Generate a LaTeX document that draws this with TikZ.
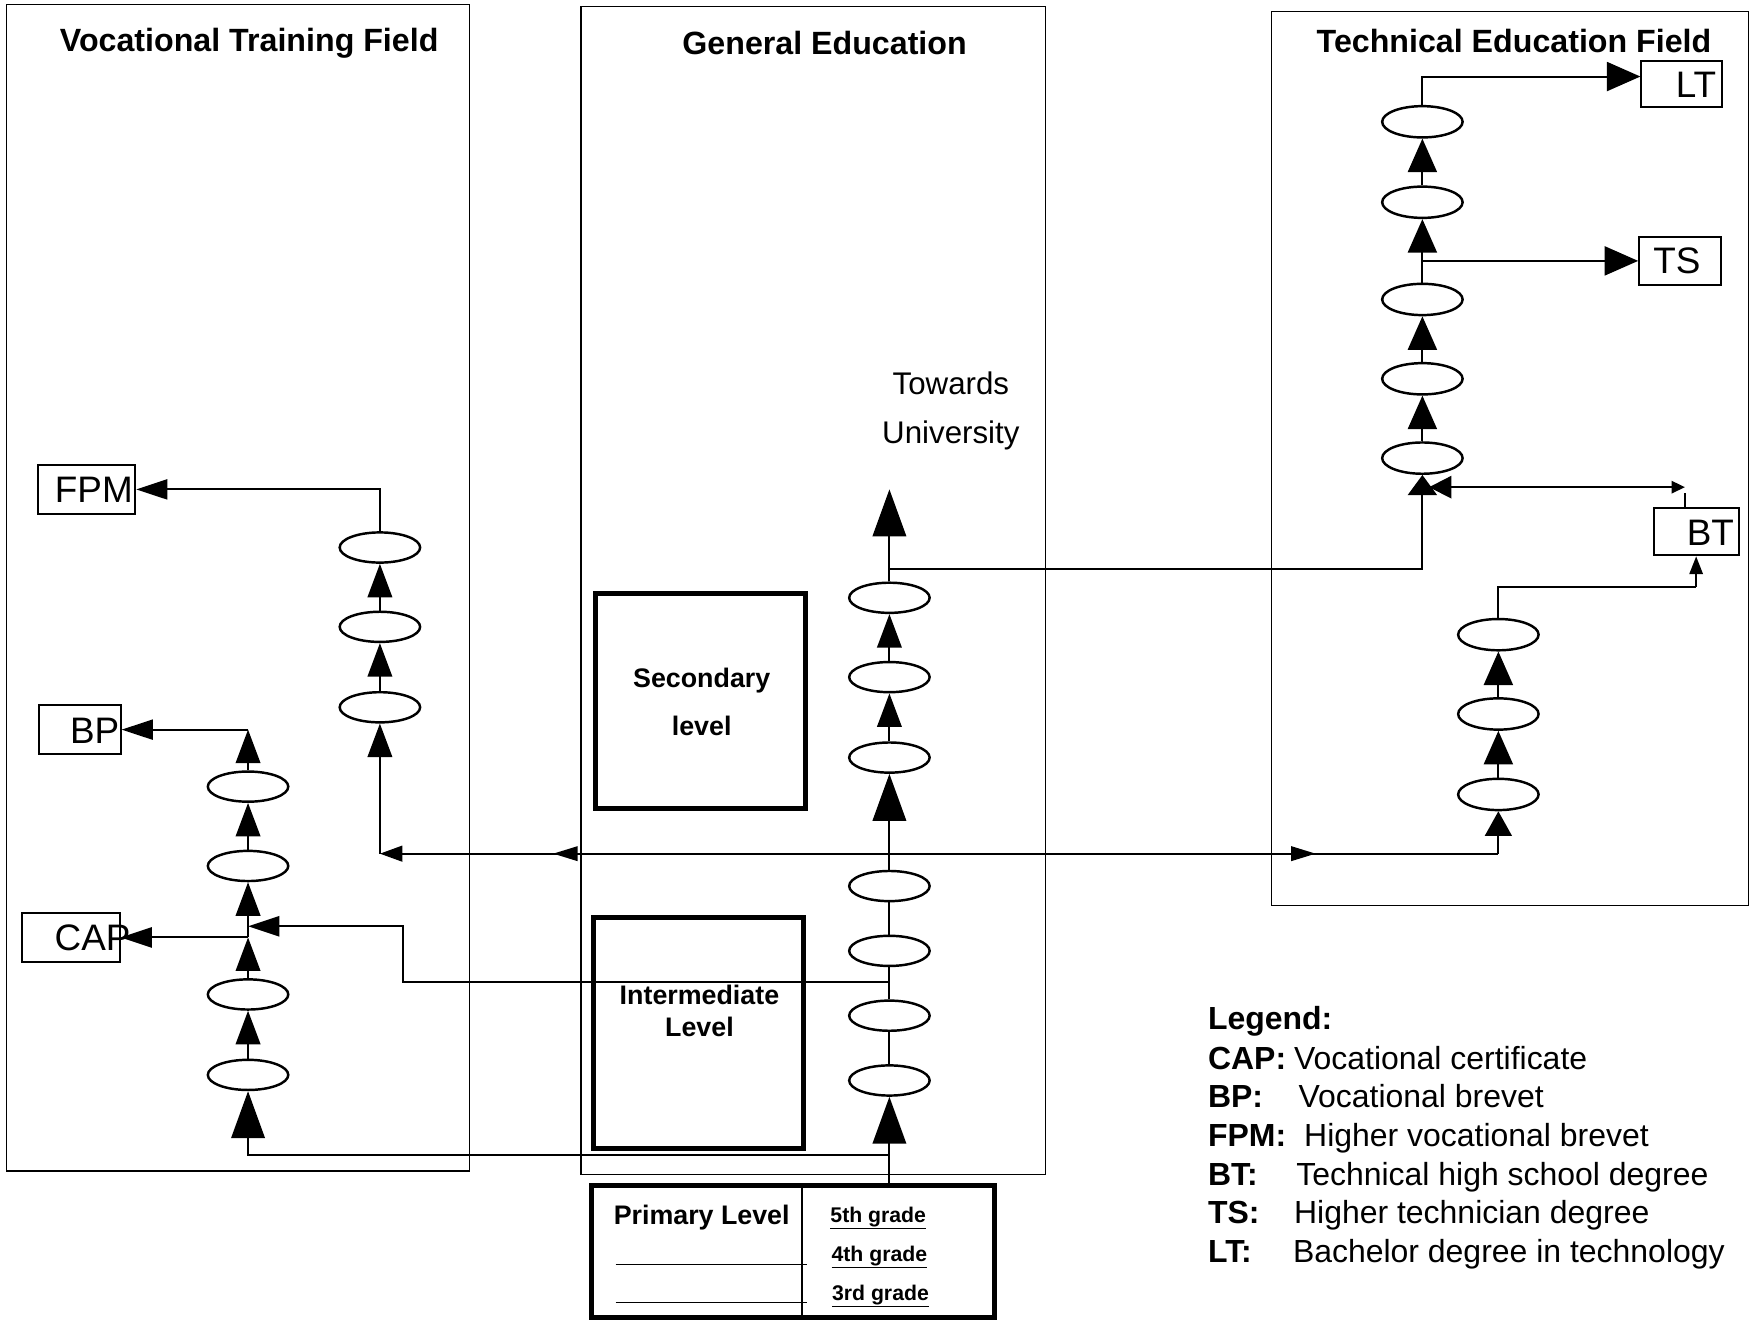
\documentclass[tikz,border=0pt]{standalone}
\usepackage{fontspec}
\setmainfont{Liberation Sans}
\usetikzlibrary{arrows.meta,shapes.geometric,decorations.markings}
\tikzset{
  field/.style={draw, line width=1pt, inner sep=0pt},
  levelbox/.style={draw, line width=4.5pt, inner sep=0pt},
  oval/.style={draw, ellipse, line width=2.2pt, minimum width=72pt, minimum height=27pt, inner sep=0pt},
  certbox/.style={draw, line width=1.8pt, inner sep=0pt},
  conn/.style={line width=1.8pt},
  tipM/.style={-{Triangle[length=30pt,width=22pt]}},
  tipL/.style={-{Triangle[length=42pt,width=30pt]}},
  tipH/.style={-{Triangle[length=28pt,width=18pt]}},
  tipR/.style={-{Triangle[length=30pt,width=26pt]}},
  tipU/.style={-{Triangle[length=22pt,width=24pt]}},
  tipT/.style={-{Triangle[length=18pt,width=26pt]}},
  tipS/.style={-{Triangle[length=20pt,width=14pt]}},
  tipXS/.style={-{Triangle[length=16pt,width=12pt]}},
  midleft/.style={postaction={decorate}, decoration={markings, mark=at position #1 with {\arrow{Triangle[length=22pt,width=13pt]}}}},
  titlef/.style={font=\fontsize{28.8}{34}\selectfont\bfseries, anchor=base, inner sep=0pt},
  certf/.style={font=\fontsize{33}{40}\selectfont, anchor=base east, inner sep=0pt},
  boxf/.style={font=\fontsize{24}{29}\selectfont\bfseries, anchor=base, inner sep=0pt},
  gradef/.style={font=\fontsize{19}{23}\selectfont\bfseries, anchor=base, inner sep=0pt},
  plainf/.style={font=\fontsize{28}{34}\selectfont, anchor=base, inner sep=0pt},
  legf/.style={font=\fontsize{28.6}{34}\selectfont, anchor=base west, inner sep=0pt},
}
\begin{document}
\begin{tikzpicture}[x=1pt,y=-1pt]
\useasboundingbox (0,0) rectangle (1568,1183);

% field frames
\node[field, minimum width=414pt, minimum height=1044pt] (voc) at (213,526) {};
\node[field, minimum width=416pt, minimum height=1045pt] (gen) at (728,528.5) {};
\node[field, minimum width=427pt, minimum height=800pt] (tech) at (1351.5,410) {};
\node[titlef] (tvoc) at (223,46) {Vocational Training Field};
\node[titlef] (tgen) at (738,49) {General Education};
\node[titlef] (ttech) at (1355,47) {Technical Education Field};

% level boxes
\node[levelbox, minimum width=188pt, minimum height=193pt] (secondary) at (627,627.5) {};
\node[boxf] (sec1) at (628,615) {Secondary};
\node[boxf] (sec2) at (628,658) {level};
\node[levelbox, minimum width=188pt, minimum height=207pt] (intermediate) at (625,924.5) {};
\node[boxf] (int1) at (626,899) {Intermediate};
\node[boxf] (int2) at (626,928) {Level};
\node[levelbox, minimum width=361pt, minimum height=118pt] (primary) at (709.5,1120) {};
\draw[line width=2pt] (718,1061) -- (718,1179);
\draw[line width=1pt] (551,1132) -- (722,1132);
\draw[line width=1pt] (551,1166) -- (722,1166);
\node[boxf] (prim) at (628,1096) {Primary Level};
\node[gradef] (gr5) at (786,1094) {\underline{5th grade}};
\node[gradef] (gr4) at (787,1129) {\underline{4th grade}};
\node[gradef] (gr3) at (788,1164) {\underline{3rd grade}};

% certificate boxes
\node[certbox, minimum width=87pt, minimum height=44pt] (fpm) at (77.5,438) {};
\node[certf] (fpmt) at (119,450) {FPM};
\node[certbox, minimum width=73pt, minimum height=44pt] (bp) at (71.5,653) {};
\node[certf] (bpt) at (107,665) {BP};
\node[certbox, minimum width=87pt, minimum height=44pt] (cap) at (63.5,839) {};
\node[certf] (capt) at (117,851) {CAP};
\node[certbox, minimum width=72pt, minimum height=41pt] (lt) at (1505,75.5) {};
\node[certf] (ltt) at (1536,87) {LT};
\node[certbox, minimum width=73pt, minimum height=43pt] (ts) at (1503.5,233.5) {};
\node[certf] (tst) at (1522,245) {TS};
\node[certbox, minimum width=76pt, minimum height=42pt] (bt) at (1518,476) {};
\node[certf] (btt) at (1552,488) {BT};

% ovals
\node[oval] (a1) at (222,962) {};
\node[oval] (a2) at (222,890) {};
\node[oval] (a3) at (222,775) {};
\node[oval] (a4) at (222,704) {};
\node[oval] (b1) at (340,633) {};
\node[oval] (b2) at (340,561) {};
\node[oval] (b3) at (340,490) {};
\node[oval] (g1) at (796,967) {};
\node[oval] (g2) at (796,909) {};
\node[oval] (g3) at (796,851) {};
\node[oval] (g4) at (796,793) {};
\node[oval] (g5) at (796,678) {};
\node[oval] (g6) at (796,606) {};
\node[oval] (g7) at (796,535) {};
\node[oval, minimum height=28pt] (t1) at (1273,410) {};
\node[oval, minimum height=28pt] (t2) at (1273,339) {};
\node[oval, minimum height=28pt] (t3) at (1273,268) {};
\node[oval, minimum height=28pt] (t4) at (1273,181) {};
\node[oval, minimum height=28pt] (t5) at (1273,109) {};
\node[oval, minimum height=28pt] (u1) at (1341,711) {};
\node[oval, minimum height=28pt] (u2) at (1341,639) {};
\node[oval, minimum height=28pt] (u3) at (1341,568) {};

\node[plainf] (tow) at (851,353) {Towards};
\node[plainf] (uni) at (851,397) {University};

% junction coordinates
\coordinate (g0) at (primary.north -| g1);
\coordinate (univ) at (796,438);
\coordinate (jA) at (796,1034);
\coordinate (jB) at (796,764);
\coordinate (cB) at (b1 |- jB);
\coordinate (cU) at (u1 |- jB);
\coordinate (jC) at (796,879);
\coordinate (kC) at (361,829);
\coordinate (jIM) at (a3 |- kC);
\coordinate (jCAP) at (a2 |- cap.east);
\coordinate (jBP) at (a4 |- bp.east);
\coordinate (jT) at (796,509);
\coordinate (jTS) at (t3 |- ts.west);
\coordinate (jLT) at ([yshift=7pt]lt.west);
\coordinate (jBT) at (1279,436);
\coordinate (kBT) at (1508,436);
\coordinate (jU) at (1518,525);

% general column
\draw[conn,tipL] (g0) -- (g1.south);
\draw[conn] (g1.north) -- (g2.south);
\draw[conn] (g2.north) -- (g3.south);
\draw[conn] (g3.north) -- (g4.south);
\draw[conn,tipL] (g4.north) -- (g5.south);
\draw[conn,tipM] (g5.north) -- (g6.south);
\draw[conn,tipM] (g6.north) -- (g7.south);
\draw[conn,tipL] (g7.north) -- (univ);

% vocational chain A
\draw[conn,tipL] (jA) -| (a1.south);
\draw[conn,tipM] (a1.north) -- (a2.south);
\draw[conn,tipM] (a2.north) -- (jCAP);
\draw[conn,tipH] (jCAP) -- (cap.east);
\draw[conn,tipM] (jCAP) -- (a3.south);
\draw[conn,tipH] (jC) -| (kC) -- (jIM);
\draw[conn,tipM] (a3.north) -- (a4.south);
\draw[conn,tipM] (a4.north) -- (jBP);
\draw[conn,tipH] (jBP) -- (bp.east);

% vocational chain B
\draw[conn,tipS,midleft=0.66] (jB) -- (cB);
\draw[conn,tipM] (cB) -- (b1.south);
\draw[conn,tipM] (b1.north) -- (b2.south);
\draw[conn,tipM] (b2.north) -- (b3.south);
\draw[conn,tipH] (b3.north) |- (fpm.east);

% technical
\draw[conn,midleft=0.70] (jB) -- (cU);
\draw[conn,tipU] (cU) -- (u1.south);
\draw[conn,tipR] (u1.north) -- (u2.south);
\draw[conn,tipR] (u2.north) -- (u3.south);
\draw[conn] (u3.north) |- (jU);
\draw[conn,tipXS] (jU) -- (bt.south);

\draw[conn,tipT] (jT) -| (t1.south);
\draw[conn,tipR] (t1.north) -- (t2.south);
\draw[conn,tipR] (t2.north) -- (t3.south);
\draw[conn,tipR] (t3.north) -- (t4.south);
\draw[conn,tipR] (t4.north) -- (t5.south);
\draw[conn,tipR] (t5.north) |- (jLT);
\draw[conn,tipR] (jTS) -- (ts.west);
\draw[conn,{Triangle[length=20pt,width=20pt]}-{Triangle[length=12pt,width=11pt]}] (jBT) -- (kBT);
\draw[conn] (bt.north -| kBT) -- ++(0,-13);

% legend
\node[legf] (lg0) at (1081,921) {\bfseries Legend:};
\node[legf] (lg1) at (1081,957) {\makebox[77pt][l]{\bfseries CAP:}Vocational certificate};
\node[legf] (lg2) at (1081,991) {\makebox[81pt][l]{\bfseries BP:}Vocational brevet};
\node[legf] (lg3) at (1081,1026) {\makebox[86pt][l]{\bfseries FPM:}Higher vocational brevet};
\node[legf] (lg4) at (1081,1061) {\makebox[79pt][l]{\bfseries BT:}Technical high school degree};
\node[legf] (lg5) at (1081,1095) {\makebox[77pt][l]{\bfseries TS:}Higher technician degree};
\node[legf] (lg6) at (1081,1130) {\makebox[76pt][l]{\bfseries LT:}Bachelor degree in technology};
\end{tikzpicture}
\end{document}
